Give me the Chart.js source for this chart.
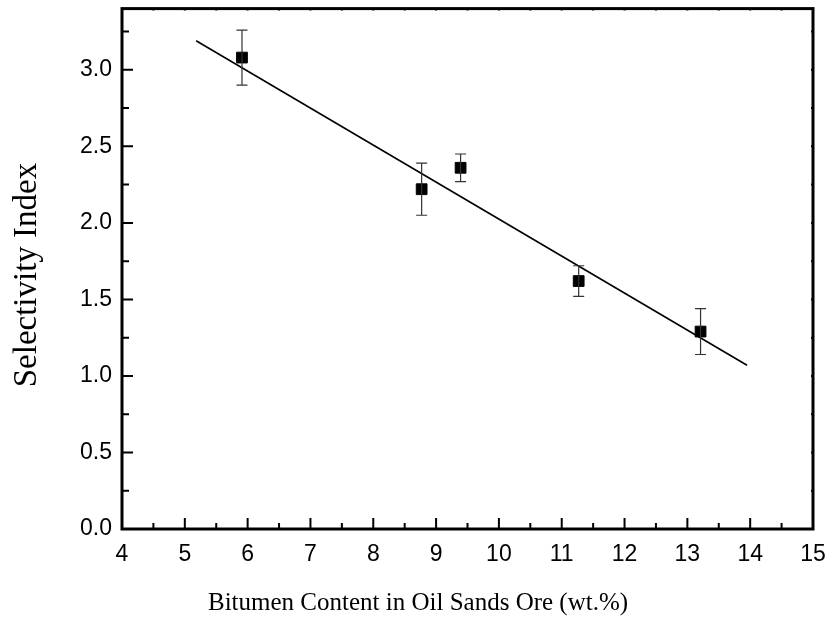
<!DOCTYPE html>
<html>
<head>
<meta charset="utf-8">
<script src="https://cdn.jsdelivr.net/npm/chart.js@4/dist/chart.umd.min.js"></script>
<style>
  html, body { margin: 0; padding: 0; background: #fff; }
  #wrap { width: 830px; height: 618px; }
</style>
</head>
<body>
<div id="wrap"><canvas id="selChart" width="830" height="618"></canvas></div>
<script>
// bitumen content (wt.%) and measured selectivity index with error
const bitumen = [5.91, 8.77, 9.39, 11.27, 13.21];
const selectivity = [3.08, 2.22, 2.36, 1.62, 1.29];
const errBar = [0.18, 0.17, 0.09, 0.10, 0.15];

// linear fit end points
const fitX = [5.18, 13.95];
const fitY = [3.19, 1.07];

const xTicks = [4, 5, 6, 7, 8, 9, 10, 11, 12, 13, 14, 15];
const yTicks = [0.0, 0.5, 1.0, 1.5, 2.0, 2.5, 3.0];

const xTitle = 'Bitumen Content in Oil Sands Ore (wt.%)';
const yTitle = 'Selectivity Index';

const ctx = document.getElementById('selChart').getContext('2d');

// frame, inward ticks, error bars and axis titles
const framePlugin = {
  id: 'frame',
  afterDatasetsDraw(chart) {
    const c = chart.ctx;
    const a = chart.chartArea;
    const xs = chart.scales.x;
    const ys = chart.scales.y;
    c.save();

    // error bars
    c.strokeStyle = '#333';
    c.lineWidth = 1.2;
    bitumen.forEach((bx, i) => {
      const px = xs.getPixelForValue(bx);
      const top = ys.getPixelForValue(selectivity[i] + errBar[i]);
      const bot = ys.getPixelForValue(selectivity[i] - errBar[i]);
      c.beginPath();
      c.moveTo(px, top); c.lineTo(px, bot);
      c.moveTo(px - 5.5, top); c.lineTo(px + 5.5, top);
      c.moveTo(px - 5.5, bot); c.lineTo(px + 5.5, bot);
      c.stroke();
    });

    c.strokeStyle = '#000';
    c.lineWidth = 2;
    // bottom ticks (major + minor)
    for (let v = 4; v <= 15; v += 0.5) {
      const px = xs.getPixelForValue(v);
      const len = Number.isInteger(v) ? 11 : 6;
      c.beginPath();
      c.moveTo(px, a.bottom); c.lineTo(px, a.bottom - len);
      c.moveTo(px, a.top); c.lineTo(px, a.top + 2);
      c.stroke();
    }
    // left ticks
    for (let v = 0; v <= 3.4; v += 0.25) {
      const py = ys.getPixelForValue(v);
      const major = Math.abs(v / 0.5 - Math.round(v / 0.5)) < 1e-6;
      const len = major ? 11 : 7;
      c.beginPath();
      c.moveTo(a.left, py); c.lineTo(a.left + len, py);
      c.moveTo(a.right, py); c.lineTo(a.right - 2, py);
      c.stroke();
    }

    // frame
    c.lineWidth = 3;
    c.strokeRect(a.left, a.top, a.right - a.left, a.bottom - a.top);

    // axis titles
    c.fillStyle = '#000';
    c.font = '25px "Liberation Serif", "Times New Roman", serif';
    c.textAlign = 'left';
    c.textBaseline = 'alphabetic';
    c.fillText(xTitle, 208, 610);

    c.font = '33px "Liberation Serif", "Times New Roman", serif';
    c.translate(36, 275);
    c.rotate(-Math.PI / 2);
    c.textAlign = 'center';
    c.fillText(yTitle, 0, 0);
    c.restore();
  }
};

const noEdgePad = scale => {
  scale.paddingTop = 0;
  scale.paddingBottom = 0;
  scale.paddingLeft = 0;
  scale.paddingRight = 0;
};

const selChart = new Chart(ctx, {
  type: 'scatter',
  data: {
    datasets: [
      {
        label: 'Fit',
        type: 'line',
        data: fitX.map((x, i) => ({ x: x, y: fitY[i] })),
        borderColor: '#000',
        borderWidth: 1.6,
        pointRadius: 0,
        fill: false,
        order: 2
      },
      {
        label: 'Selectivity',
        data: bitumen.map((x, i) => ({ x: x, y: selectivity[i] })),
        pointStyle: 'rect',
        pointRadius: 7.6,
        backgroundColor: '#000',
        borderColor: '#000',
        borderWidth: 1,
        order: 1
      }
    ]
  },
  options: {
    responsive: false,
    animation: false,
    layout: { padding: { left: 0, top: 7, right: 17, bottom: 0 } },
    plugins: {
      legend: { display: false },
      tooltip: { enabled: false }
    },
    scales: {
      x: {
        type: 'linear',
        min: 4,
        max: 15,
        afterFit(scale) { scale.height = 89; noEdgePad(scale); },
        afterBuildTicks(scale) { scale.ticks = xTicks.map(v => ({ value: v })); },
        grid: { display: false, drawTicks: false, tickLength: 0 },
        border: { display: false },
        ticks: {
          padding: 12,
          maxRotation: 0,
          color: '#000',
          font: { family: '"Liberation Sans", Arial', size: 23 }
        }
      },
      y: {
        type: 'linear',
        min: 0,
        max: 3.4,
        afterFit(scale) { scale.width = 122; noEdgePad(scale); },
        afterBuildTicks(scale) { scale.ticks = yTicks.map(v => ({ value: v })); },
        grid: { display: false, drawTicks: false, tickLength: 0 },
        border: { display: false },
        ticks: {
          padding: 10,
          color: '#000',
          font: { family: '"Liberation Sans", Arial', size: 23 },
          callback: v => v.toFixed(1)
        }
      }
    }
  },
  plugins: [framePlugin]
});
</script>
</body>
</html>
